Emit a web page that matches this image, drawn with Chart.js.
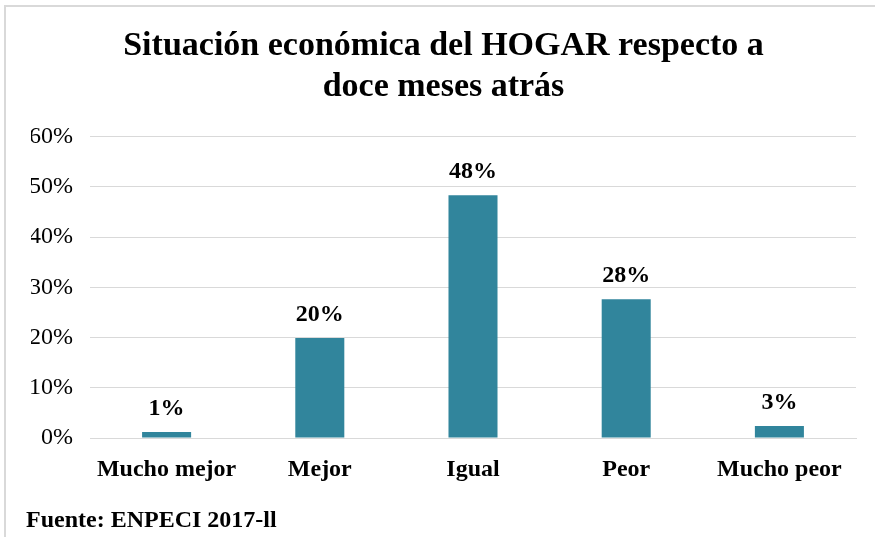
<!DOCTYPE html>
<html>
<head>
<meta charset="utf-8">
<script src="https://cdn.jsdelivr.net/npm/chart.js@4"></script>
<style>
  html, body { margin: 0; padding: 0; background: #fff; }
  #wrap { position: relative; width: 875px; height: 537px; overflow: hidden; }
  #frame { position: absolute; left: 4px; top: 5px; width: 900px; height: 560px; border-left: 2px solid #d9d9d9; border-top: 2px solid #d9d9d9; }
  #chart { position: absolute; left: 0; top: 0; }
  #source { position: absolute; left: 26px; top: 506px; line-height: 24px; font: bold 24px "Liberation Serif", "Times New Roman", serif; color: #000; }
</style>
</head>
<body>
<div id="wrap">
  <div id="frame"></div>
  <canvas id="chart" width="875" height="537"></canvas>
  <div id="source">Fuente: ENPECI 2017-ll</div>
</div>
<script>
var categories = ["Mucho mejor", "Mejor", "Igual", "Peor", "Mucho peor"]
var values = [1.2, 19.9, 48.3, 27.6, 2.4]
var valueLabels = ["1%", "20%", "48%", "28%", "3%"]
var titleLines = ["Situación económica del HOGAR respecto a", "doce meses atrás"]

var serif = '"Liberation Serif", "Times New Roman", serif'

// draws the rounded percentage above each bar
var barLabels = {
      id: 'barLabels',
      afterDatasetsDraw: function(chart) {
            var ctx = chart.ctx
            var meta = chart.getDatasetMeta(0)
            ctx.save()
            ctx.font = 'bold 24px ' + serif
            ctx.fillStyle = '#000'
            ctx.textAlign = 'center'
            ctx.textBaseline = 'alphabetic'
            meta.data.forEach(function(bar, i) {
                  ctx.fillText(valueLabels[i], bar.x, bar.y - 17)
            })
            ctx.restore()
      }
}

var ctx = document.getElementById('chart').getContext('2d')
var chart = new Chart(ctx, {
      type: 'bar',
      data: {
            labels: categories,
            datasets: [{
                  data: values,
                  backgroundColor: '#31859c',
                  categoryPercentage: 1,
                  barPercentage: 0.32
            }]
      },
      options: {
            responsive: false,
            animation: false,
            layout: { padding: { left: 31, right: 19, top: 0, bottom: 51 } },
            plugins: {
                  legend: { display: false },
                  tooltip: { enabled: false },
                  title: {
                        display: true,
                        text: titleLines,
                        color: '#000',
                        font: { family: serif, size: 34, weight: 'bold', lineHeight: 1.2 },
                        padding: { top: 26, bottom: 29 }
                  }
            },
            scales: {
                  x: {
                        grid: { display: false, drawTicks: false },
                        border: { display: true, color: '#d9d9d9', width: 1 },
                        ticks: { color: '#000', font: { family: serif, size: 24, weight: 'bold' }, padding: 17, maxRotation: 0 },
                        afterFit: function(scale) { scale.height = 48 }
                  },
                  y: {
                        min: 0,
                        max: 60,
                        ticks: {
                              stepSize: 10,
                              color: '#000',
                              padding: 17,
                              font: { family: serif, size: 24 },
                              callback: function(v) { return v + '%' }
                        },
                        grid: { color: '#d9d9d9', drawTicks: false },
                        border: { display: false },
                        afterFit: function(scale) { scale.width = 59 }
                  }
            }
      },
      plugins: [barLabels]
})
</script>
</body>
</html>
